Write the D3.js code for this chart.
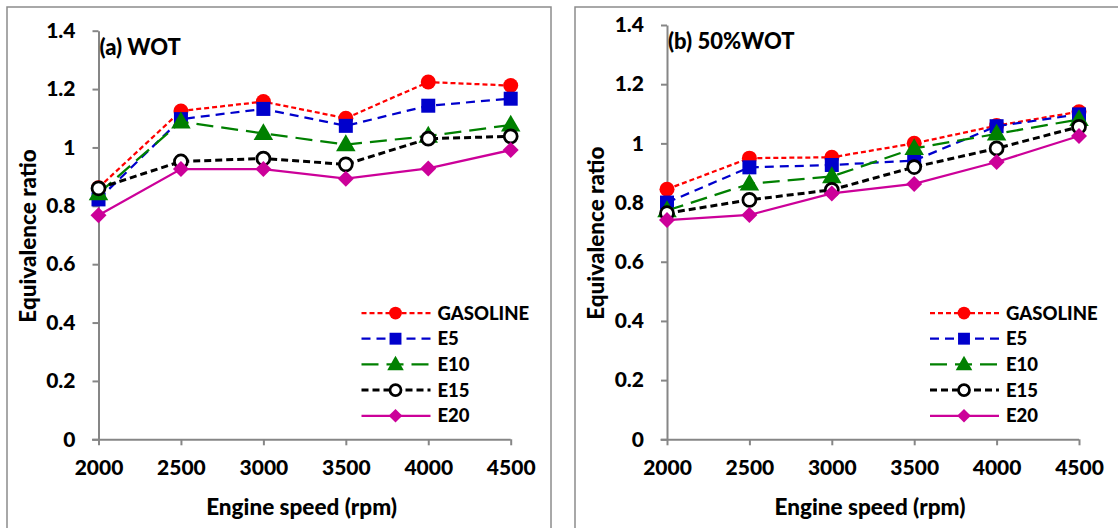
<!DOCTYPE html>
<html>
<head>
<meta charset="utf-8">
<script src="https://cdn.jsdelivr.net/npm/d3@7"></script>
<style>
  html, body { margin: 0; padding: 0; background: #ffffff; }
  svg { display: block; }
  text { font-family: Lato, "Open Sans", "Liberation Sans", sans-serif; font-weight: 900; fill: #000; }
</style>
</head>
<body>
<svg id="chart" width="1118" height="528"></svg>
<script>
// Engine speeds on the category axis
const speeds = [2000, 2500, 3000, 3500, 4000, 4500];
const yTicks = [0, 0.2, 0.4, 0.6, 0.8, 1, 1.2, 1.4];
const seriesNames = ["GASOLINE", "E5", "E10", "E15", "E20"];

// (a) Wide open throttle
const wotGasoline = [0.862, 1.125, 1.157, 1.100, 1.224, 1.212];
const wotE5       = [0.822, 1.097, 1.132, 1.074, 1.143, 1.167];
const wotE10      = [0.842, 1.088, 1.048, 1.010, 1.039, 1.077];
const wotE15      = [0.860, 0.952, 0.962, 0.942, 1.030, 1.038];
const wotE20      = [0.768, 0.926, 0.926, 0.893, 0.928, 0.991];

// (b) 50% throttle
const halfGasoline = [0.845, 0.950, 0.953, 1.000, 1.060, 1.107];
const halfE5       = [0.800, 0.919, 0.927, 0.942, 1.058, 1.098];
const halfE10      = [0.773, 0.863, 0.888, 0.983, 1.032, 1.081];
const halfE15      = [0.764, 0.809, 0.843, 0.920, 0.983, 1.056];
const halfE20      = [0.741, 0.758, 0.831, 0.863, 0.937, 1.025];

const panelTitles = ["(a) WOT", "(b) 50%WOT"];
const xTitle = "Engine speed (rpm)";
const yTitle = "Equivalence ratio";

// Line and marker look for each fuel
const styles = {
  "GASOLINE": { color: "#ff0000", width: 2.25, dash: "5,3",  marker: "circle" },
  "E5":       { color: "#0000cc", width: 2.25, dash: "9,6",  marker: "square" },
  "E10":      { color: "#008000", width: 2.25, dash: "17,8", marker: "triangle" },
  "E15":      { color: "#000000", width: 3,    dash: "7,4",  marker: "open" },
  "E20":      { color: "#cc0099", width: 2.25, dash: null,   marker: "diamond" }
};

const panels = [
  {
    title: panelTitles[0],
    frame: { x: 7, y: 7, w: 544, h: 540 },
    plot: { left: 98.5, right: 510.7, top: 30.7, bottom: 439.3 },
    values: [wotGasoline, wotE5, wotE10, wotE15, wotE20]
  },
  {
    title: panelTitles[1],
    frame: { x: 575, y: 7, w: 544, h: 540 },
    plot: { left: 667, right: 1079, top: 25, bottom: 439.3 },
    values: [halfGasoline, halfE5, halfE10, halfE15, halfE20]
  }
];

const svg = d3.select("#chart");
const axisColor = "#868686";

function drawMarker(g, kind, cx, cy, color, scale) {
  const s = scale || 1;
  if (kind === "circle") {
    g.append("circle").attr("cx", cx).attr("cy", cy).attr("r", 7.5 * s).attr("fill", color);
  } else if (kind === "square") {
    const h = 7 * s;
    g.append("rect").attr("x", cx - h).attr("y", cy - h).attr("width", 2 * h).attr("height", 2 * h).attr("fill", color);
  } else if (kind === "triangle") {
    const sym = d3.symbol().type(d3.symbolTriangle).size(165 * s * s);
    g.append("path").attr("d", sym()).attr("transform", `translate(${cx},${cy + 1})`).attr("fill", color);
  } else if (kind === "open") {
    g.append("circle").attr("cx", cx).attr("cy", cy).attr("r", 6.5 * s)
      .attr("fill", "#ffffff").attr("stroke", color).attr("stroke-width", 2.75);
  } else if (kind === "diamond") {
    const h = 8 * s;
    g.append("path").attr("d", `M${cx},${cy - h}L${cx + h},${cy}L${cx},${cy + h}L${cx - h},${cy}Z`).attr("fill", color);
  }
}

panels.forEach(p => {
  const g = svg.append("g");

  // panel frame
  g.append("rect")
    .attr("x", p.frame.x).attr("y", p.frame.y)
    .attr("width", p.frame.w).attr("height", p.frame.h)
    .attr("fill", "none").attr("stroke", "#8c8c8c").attr("stroke-width", 1.5);

  const x = d3.scalePoint().domain(speeds).range([p.plot.left, p.plot.right]);
  const y = d3.scaleLinear().domain([0, 1.4]).range([p.plot.bottom, p.plot.top]);

  // y axis
  const yAxis = g.append("g")
    .attr("transform", `translate(${p.plot.left},0)`)
    .call(d3.axisLeft(y).tickValues(yTicks).tickSize(6).tickSizeOuter(0).tickPadding(17).tickFormat(d => String(d)));
  // x axis
  const xAxis = g.append("g")
    .attr("transform", `translate(0,${p.plot.bottom})`)
    .call(d3.axisBottom(x).tickSize(6).tickSizeOuter(0).tickPadding(15));

  [yAxis, xAxis].forEach(a => {
    a.select(".domain").attr("stroke", axisColor).attr("stroke-width", 2);
    a.selectAll(".tick line").attr("stroke", axisColor).attr("stroke-width", 2);
    a.selectAll(".tick text").style("font-size", "21px").style("font-weight", "900")
      .style("font-family", "Lato, 'Open Sans', sans-serif").attr("fill", "#000");
  });
  xAxis.select(".domain").attr("d", `M${p.plot.left - 6.5},0.5H${p.plot.right}`);

  // axis titles
  g.append("text")
    .attr("x", (p.plot.left + p.plot.right) / 2 - 3)
    .attr("y", 515)
    .attr("text-anchor", "middle")
    .style("font-size", "22.5px")
    .text(xTitle);
  g.append("text")
    .attr("transform", `translate(${p.plot.left - 63},${(p.plot.top + p.plot.bottom) / 2 + 1}) rotate(-90)`)
    .attr("text-anchor", "middle")
    .style("font-size", "22.5px")
    .text(yTitle);

  // panel label
  g.append("text")
    .attr("x", p.plot.left + 1)
    .attr("y", p.plot.top + 24)
    .style("font-size", "22px")
    .text(p.title);

  // series lines with markers
  const line = d3.line().x((d, i) => x(speeds[i])).y(d => y(d));
  seriesNames.forEach((name, si) => {
    const st = styles[name];
    const vals = p.values[si];
    const sg = g.append("g");
    sg.append("path")
      .datum(vals)
      .attr("d", line)
      .attr("fill", "none")
      .attr("stroke", st.color)
      .attr("stroke-width", st.width)
      .attr("stroke-dasharray", st.dash);
    vals.forEach((v, i) => drawMarker(sg, st.marker, x(speeds[i]), y(v), st.color, 1));
  });

  // legend
  const lx = p.plot.left + 263;
  const ly = 313;
  const rowGap = 25.7;
  seriesNames.forEach((name, si) => {
    const st = styles[name];
    const ry = ly + si * rowGap;
    const lg = g.append("g");
    lg.append("line")
      .attr("x1", lx).attr("x2", lx + 69).attr("y1", ry).attr("y2", ry)
      .attr("stroke", st.color).attr("stroke-width", st.width)
      .attr("stroke-dasharray", st.dash);
    drawMarker(lg, st.marker, lx + 34, ry, st.color, 0.85);
    lg.append("text")
      .attr("x", lx + 76)
      .attr("y", ry)
      .attr("dy", "0.36em")
      .style("font-size", "18.5px")
      .text(name);
  });
});
</script>
</body>
</html>
